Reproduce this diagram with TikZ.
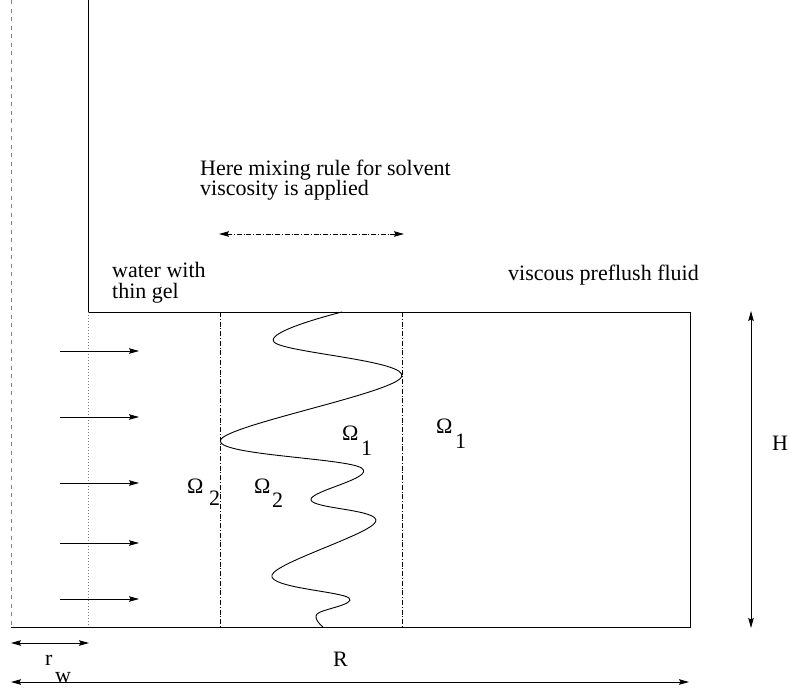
\documentclass[tikz,border=0pt]{standalone}
\usepackage{fontspec}
\setmainfont{Liberation Serif}
\usetikzlibrary{arrows.meta}
\tikzset{
  lbl/.style={font=\fontsize{22}{22}\selectfont, inner sep=0pt, anchor=base west},
  wall/.style={line width=0.9pt},
  axisline/.style={line width=0.7pt, gray, dash pattern=on 4pt off 4.5pt},
  dotline/.style={line width=0.8pt, gray, dash pattern=on 1pt off 2pt},
  dashdotline/.style={line width=0.7pt, dash pattern=on 5pt off 1.8pt on 1pt off 1.8pt},
  tip/.tip={Stealth[length=10pt,width=5.5pt,inset=1.5pt]},
  onearrow/.style={line width=0.8pt, -tip},
  twoarrow/.style={line width=0.8pt, tip-tip},
  wave/.style={line width=0.9pt},
}
\begin{document}
\begin{tikzpicture}[x=1pt,y=-1pt]
\useasboundingbox (0,0) rectangle (792,688);
% walls and box
\coordinate (topW) at (88,0);
\coordinate (corner) at (88,312);
\coordinate (boxTR) at (690,312);
\coordinate (boxBR) at (690,627);
\coordinate (boxBL) at (11,627);
\draw[wall] (topW) -- (corner) -- (boxTR) -- (boxBR) -- (boxBL);
% axis
\coordinate (axTop) at (11,0);
\draw[axisline] (axTop) -- (boxBL);
% well radius
\coordinate (rwB) at (88,627);
\draw[dotline] (corner) -- (rwB);
% mixing zone boundaries
\coordinate (m1T) at (220,312); \coordinate (m1B) at (220,627);
\coordinate (m2T) at (402,312); \coordinate (m2B) at (402,627);
\draw[dashdotline] (m1T) -- (m1B);
\draw[dashdotline] (m2T) -- (m2B);
% mixing arrow
\coordinate (mxL) at (219,234); \coordinate (mxR) at (404,234);
\draw[dashdotline, line width=0.8pt, tip-tip] (mxL) -- (mxR);
% flow arrows
\foreach \yy [count=\i] in {351,417,483,543,599}{
  \coordinate (fa\i) at (60,\yy);
  \coordinate (fb\i) at (139,\yy);
  \draw[onearrow] (fa\i) -- (fb\i);
}
% wavy front
\draw[wave] plot[smooth, tension=0.6] coordinates {
  (342,312) (274,342) (401.5,377) (220.5,440) (361.5,468) (311,500)
  (375.5,522) (272,575) (349,598) (317,614) (323,627)};
% H arrow
\coordinate (hT) at (751,311); \coordinate (hB) at (751,628);
\draw[twoarrow] (hT) -- (hB);
% r_w arrow
\coordinate (rwL) at (11,643); \coordinate (rwR) at (89,643);
\draw[twoarrow] (rwL) -- (rwR);
% R arrow
\coordinate (RL) at (11,682); \coordinate (RR) at (689,682);
\draw[twoarrow] (RL) -- (RR);
% labels
\node[lbl] (t1) at (200,175) {Here mixing rule for solvent};
\node[lbl] (t2) at (200,195) {viscosity is applied};
\node[lbl] (t3) at (112,277) {water with};
\node[lbl] (t4) at (112,298) {thin gel};
\node[lbl] (t5) at (508,280) {viscous preflush fluid};
\node[lbl] (tH) at (772,450) {H};
\node[lbl] (tR) at (333,666) {R};
\node[lbl] (tr) at (45,665) {r};
\node[lbl] (tw) at (55,682) {w};
\node[lbl] (o1) at (342,440) {Ω};
\node[lbl] (o1s) at (361,455) {1};
\node[lbl] (o2) at (436,433) {Ω};
\node[lbl] (o2s) at (455,448) {1};
\node[lbl] (o3) at (187,493) {Ω};
\node[lbl] (o3s) at (209,505) {2};
\node[lbl] (o4) at (254,493) {Ω};
\node[lbl] (o4s) at (272,507) {2};
\end{tikzpicture}
\end{document}
